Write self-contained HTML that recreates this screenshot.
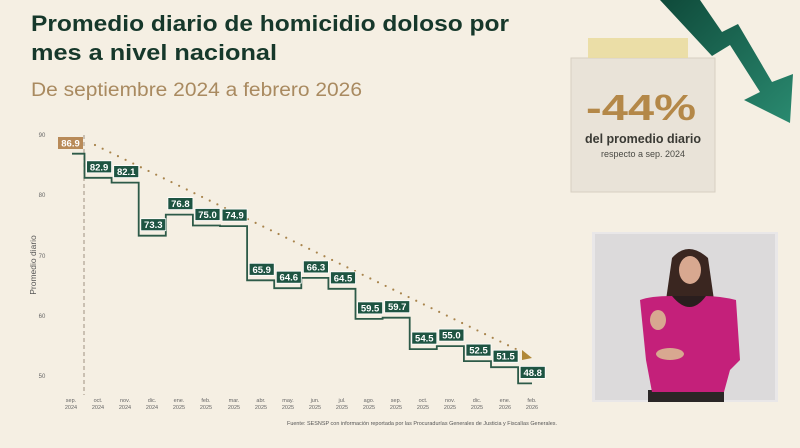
<!DOCTYPE html>
<html><head><meta charset="utf-8"><style>
html,body{margin:0;padding:0;width:800px;height:448px;overflow:hidden;background:#f5efe3}
svg{display:block}
text{font-family:"Liberation Sans",sans-serif}
</style></head><body>
<svg width="800" height="448" viewBox="0 0 800 448">
<defs>
<linearGradient id="ar" x1="0" y1="0" x2="1" y2="1"><stop offset="0" stop-color="#0f4a3a"/><stop offset="1" stop-color="#2a8a70"/></linearGradient>
</defs>
<rect width="800" height="448" fill="#f5efe3"/>
<text x="31" y="31" font-size="22.5" font-weight="bold" fill="#16382b" textLength="478" lengthAdjust="spacingAndGlyphs">Promedio diario de homicidio doloso por</text>
<text x="31" y="60" font-size="22.5" font-weight="bold" fill="#16382b" textLength="246" lengthAdjust="spacingAndGlyphs">mes a nivel nacional</text>
<text x="31" y="96" font-size="19" fill="#a98a60" textLength="331" lengthAdjust="spacingAndGlyphs">De septiembre 2024 a febrero 2026</text>

<polygon points="660,0 700,0 722,32 738,24 772,82 793,74 790,123 744,100 760,92 730,45 712,56" fill="url(#ar)"/>
<rect x="571" y="58" width="144" height="134" fill="#e9e3d8" stroke="#d6cfc2"/>
<rect x="588" y="38" width="100" height="20" fill="#eadca0" opacity="0.9"/>
<text x="641" y="120" font-size="36" font-weight="bold" fill="#b48848" text-anchor="middle" textLength="110" lengthAdjust="spacingAndGlyphs">-44%</text>
<text x="643" y="143" font-size="12.5" font-weight="bold" fill="#3a3a34" text-anchor="middle">del promedio diario</text>
<text x="643" y="157" font-size="9" fill="#4a4a44" text-anchor="middle">respecto a sep. 2024</text>

<rect x="592" y="232" width="186" height="170" fill="#e9e7e8"/>
<rect x="595" y="234" width="180" height="166" fill="#dcdadb"/>
<rect x="648" y="390" width="76" height="12" fill="#2a2626"/>
<path d="M672 258 Q688 240 708 258 L714 300 L666 300 Z" fill="#3a2620"/>
<ellipse cx="690" cy="270" rx="11" ry="14" fill="#d8a890"/>
<path d="M640 300 Q650 296 672 296 L704 296 Q720 296 736 300 L740 360 L730 370 L724 392 L652 392 L646 360 Z" fill="#c4207a"/>
<path d="M672 296 Q690 318 706 296 Z" fill="#2a1e1e"/>
<ellipse cx="658" cy="320" rx="8" ry="10" fill="#d8a890"/>
<ellipse cx="670" cy="354" rx="14" ry="6" fill="#d8a890"/>

<text x="36" y="265" font-size="8.5" fill="#555" text-anchor="middle" transform="rotate(-90 36 265)">Promedio diario</text>
<g font-size="6" fill="#666" text-anchor="middle">
<text x="42" y="137">90</text><text x="42" y="197">80</text><text x="42" y="258">70</text><text x="42" y="318">60</text><text x="42" y="378">50</text>
</g>
<line x1="84" y1="135" x2="84" y2="395" stroke="#a09080" stroke-width="1" stroke-dasharray="4,3"/>

<line x1="95" y1="145" x2="524" y2="353" stroke="#a8844c" stroke-width="2.2" stroke-linecap="round" stroke-dasharray="0,8.5"/>
<polygon points="522,350 532,358 522,360" fill="#b08838"/>

<path d="M72 153.7 H84.5 V177.8 H111.6 V182.6 H138.7 V235.7 H165.8 V214.6 H192.9 V225.5 H220 V226.1 H247.1 V280.3 H274.2 V288.2 H301.3 V277.9 H328.4 V288.8 H355.5 V318.9 H382.6 V317.7 H409.7 V349.1 H436.8 V346.1 H463.9 V361.1 H491 V367.2 H518.1 V383.4 H532" fill="none" stroke="#2d5a48" stroke-width="1.8"/>

<rect x="58" y="137" width="25" height="12" fill="#b88a58"/>
<text x="70.5" y="146.5" font-size="9.5" font-weight="bold" fill="#fff" text-anchor="middle">86.9</text>
<g font-size="9.5" font-weight="bold" fill="#fff" text-anchor="middle">
<g fill="#1e5442" stroke="#fff" stroke-width="0.8">
<rect x="86.6" y="160.8" width="25" height="12"/>
<rect x="113.7" y="165.6" width="25" height="12"/>
<rect x="140.8" y="218.7" width="25" height="12"/>
<rect x="167.9" y="197.6" width="25" height="12"/>
<rect x="195" y="208.5" width="25" height="12"/>
<rect x="222.1" y="209.1" width="25" height="12"/>
<rect x="249.2" y="263.3" width="25" height="12"/>
<rect x="276.3" y="271.2" width="25" height="12"/>
<rect x="303.4" y="260.9" width="25" height="12"/>
<rect x="330.5" y="271.8" width="25" height="12"/>
<rect x="357.6" y="301.9" width="25" height="12"/>
<rect x="384.7" y="300.7" width="25" height="12"/>
<rect x="411.8" y="332.1" width="25" height="12"/>
<rect x="438.9" y="329.1" width="25" height="12"/>
<rect x="466" y="344.1" width="25" height="12"/>
<rect x="493.1" y="350.2" width="25" height="12"/>
<rect x="520.2" y="366.4" width="25" height="12"/>
</g>
<text x="99.1" y="170.3">82.9</text>
<text x="126.2" y="175.1">82.1</text>
<text x="153.3" y="228.2">73.3</text>
<text x="180.4" y="207.1">76.8</text>
<text x="207.5" y="218">75.0</text>
<text x="234.6" y="218.6">74.9</text>
<text x="261.7" y="272.8">65.9</text>
<text x="288.8" y="280.7">64.6</text>
<text x="315.9" y="270.4">66.3</text>
<text x="343" y="281.3">64.5</text>
<text x="370.1" y="311.4">59.5</text>
<text x="397.2" y="310.2">59.7</text>
<text x="424.3" y="341.6">54.5</text>
<text x="451.4" y="338.6">55.0</text>
<text x="478.5" y="353.6">52.5</text>
<text x="505.6" y="359.7">51.5</text>
<text x="532.7" y="375.9">48.8</text>
</g>

<g font-size="5.5" fill="#666" text-anchor="middle">
<text x="71" y="402">sep.</text><text x="71" y="409">2024</text>
<text x="98" y="402">oct.</text><text x="98" y="409">2024</text>
<text x="125" y="402">nov.</text><text x="125" y="409">2024</text>
<text x="152" y="402">dic.</text><text x="152" y="409">2024</text>
<text x="179" y="402">ene.</text><text x="179" y="409">2025</text>
<text x="206" y="402">feb.</text><text x="206" y="409">2025</text>
<text x="234" y="402">mar.</text><text x="234" y="409">2025</text>
<text x="261" y="402">abr.</text><text x="261" y="409">2025</text>
<text x="288" y="402">may.</text><text x="288" y="409">2025</text>
<text x="315" y="402">jun.</text><text x="315" y="409">2025</text>
<text x="342" y="402">jul.</text><text x="342" y="409">2025</text>
<text x="369" y="402">ago.</text><text x="369" y="409">2025</text>
<text x="396" y="402">sep.</text><text x="396" y="409">2025</text>
<text x="423" y="402">oct.</text><text x="423" y="409">2025</text>
<text x="450" y="402">nov.</text><text x="450" y="409">2025</text>
<text x="477" y="402">dic.</text><text x="477" y="409">2025</text>
<text x="505" y="402">ene.</text><text x="505" y="409">2026</text>
<text x="532" y="402">feb.</text><text x="532" y="409">2026</text>
</g>
<text x="287" y="425" font-size="5" fill="#555" textLength="270" lengthAdjust="spacingAndGlyphs">Fuente: SESNSP con información reportada por las Procuradurías Generales de Justicia y Fiscalías Generales.</text>
</svg>
</body></html>
